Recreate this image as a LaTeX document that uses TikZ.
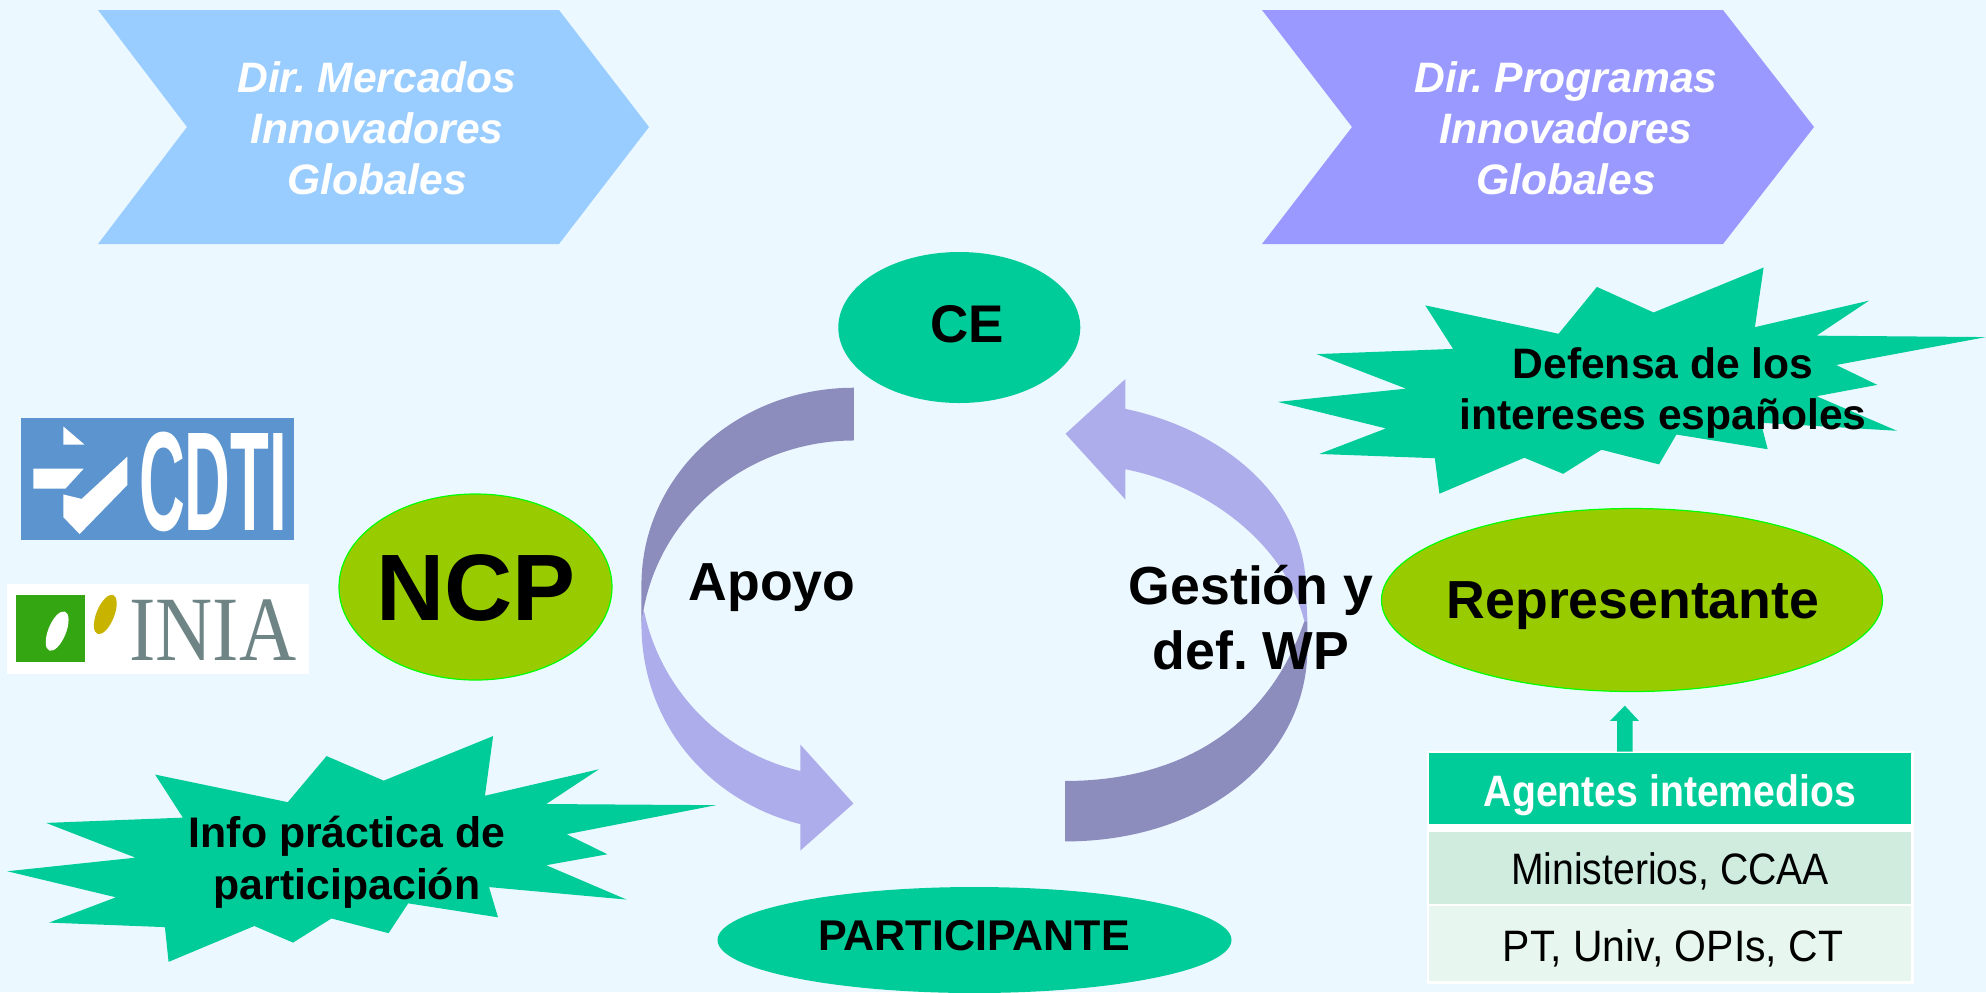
\documentclass[tikz,border=0pt]{standalone}
\usepackage{fontspec}
\usepackage{graphicx}
\setmainfont{Liberation Sans}
\newfontfamily\iniafont{Liberation Serif}
\usetikzlibrary{shapes.geometric}
\frenchspacing
\newcommand{\fpt}[1]{\fontsize{#1}{#1}\selectfont}
\definecolor{bgc}{HTML}{ECF8FF}
\definecolor{mint}{HTML}{00CC99}
\definecolor{olive}{HTML}{99CC00}
\definecolor{lime}{HTML}{00FF00}
\definecolor{chevA}{HTML}{99CCFF}
\definecolor{chevB}{HTML}{9999FF}
\definecolor{arrL}{HTML}{ADADEB}
\definecolor{arrD}{HTML}{8C8CBD}
\definecolor{rowA}{HTML}{CFECDF}
\definecolor{rowB}{HTML}{E7F6EE}
\definecolor{cdtiblue}{HTML}{5B94CE}
\definecolor{iniagreen}{HTML}{33A612}
\definecolor{iniayellow}{HTML}{C8B400}
\definecolor{iniagray}{HTML}{6F8585}
\tikzset{
  lbl/.style={font=\bfseries\fpt{26.8}, text=black, inner sep=0pt, align=center},
  chevlbl/.style={font=\bfseries\itshape\fpt{21.3}, text=white, inner sep=0pt, align=center},
  oval/.style={ellipse, inner sep=0pt, fill=mint},
  olive oval/.style={ellipse, inner sep=0pt, fill=olive, draw=lime, line width=0.6pt},
  rowlbl/.style={inner sep=0pt, anchor=center}
}
\begin{document}
\begin{tikzpicture}[x=0.5pt,y=-0.5pt]
\useasboundingbox (0,0) rectangle (1986,992);
\fill[bgc] (0,0) rectangle (1986,992);

% chevrons
\fill[chevA] (98,10) -- (559,10) -- (649,127) -- (559,244) -- (98,244) -- (187,127) -- cycle;
\fill[chevB] (1262,10) -- (1723,10) -- (1814,127) -- (1723,244) -- (1262,244) -- (1352,127) -- cycle;
\node[chevlbl] (dirm) at (377,128) {Dir. Mercados\\[4.3pt]Innovadores\\[4.3pt]Globales};
\node[chevlbl] (dirp) at (1566,128) {Dir. Programas\\[4.3pt]Innovadores\\[4.3pt]Globales};

% curved arrows
\begin{scope}[shift={(620,240)},xscale=0.4464,yscale=0.4796]
\fill[arrD] (524,308) .. controls (261,308) and (48,490) .. (48,720) -- (48,800) -- (53,770)
  .. controls (95,560) and (300,418) .. (524,418) -- cycle;
\fill[arrL] (53,770) .. controls (90,940) and (230,1070) .. (404,1107) -- (404,1052) -- (523,1175)
  -- (404,1273) -- (404,1218) .. controls (200,1170) and (48,1010) .. (48,800) -- cycle;
\fill[arrL] (998,404) -- (1132,290) -- (1132,352) .. controls (1350,395) and (1520,530) .. (1535,700)
  -- (1540,795) -- (1533,795) .. controls (1490,630) and (1310,510) .. (1132,478) -- (1132,541) -- cycle;
\fill[arrD] (997,1128) .. controls (1250,1128) and (1450,1020) .. (1533,795) -- (1540,795)
  -- (1540,850) .. controls (1540,1080) and (1310,1254) .. (997,1254) -- cycle;
\end{scope}

% stars
\begin{scope}[shift={(0,400)},xscale=0.4082,yscale=0.3776]
\fill[mint] (380,992) -- (705,1065) -- (800,943) -- (940,1008) -- (1208,890) -- (1188,1048) -- (1467,978)
 -- (1338,1070) -- (1754,1073) -- (1388,1150) -- (1488,1203) -- (1338,1232) -- (1535,1323) -- (1198,1290)
 -- (1220,1370) -- (1000,1333) -- (952,1412) -- (812,1373) -- (718,1437) -- (623,1393) -- (413,1488)
 -- (404,1396) -- (120,1384) -- (284,1317) -- (18,1248) -- (332,1212) -- (113,1120) -- (448,1106) -- cycle;
\end{scope}
\begin{scope}[shift={(1270,250)},xscale=0.4566,yscale=0.4732]
\fill[mint] (340,117) -- (632,177) -- (716,78) -- (840,132) -- (1081,37) -- (1062,163) -- (1312,107)
 -- (1197,181) -- (1568,184) -- (1240,243) -- (1330,285) -- (1197,309) -- (1373,382) -- (1075,365)
 -- (1090,421) -- (890,390) -- (852,453) -- (726,422) -- (642,473) -- (557,439) -- (371,515)
 -- (361,440) -- (108,431) -- (254,377) -- (17,321) -- (298,293) -- (102,220) -- (401,209) -- cycle;
\end{scope}

% ellipses
\node[oval, minimum width=121pt, minimum height=75.5pt] (ce) at (959.3,327.5) {};
\node[oval, minimum width=257pt, minimum height=53pt] (part) at (974.5,940) {};
\node[olive oval, minimum width=136.5pt, minimum height=93pt] (ncp) at (475.5,587) {};
\node[olive oval, minimum width=250.5pt, minimum height=91.5pt] (rep) at (1632,600) {};

% labels
\node[inner sep=0pt, font=\bfseries\fpt{26.5}] (cet) at (967,324) {CE};
\node[inner sep=0pt, font=\bfseries\fpt{21.5}] (partt) at (974,936) {PARTICIPANTE};
\node[inner sep=0pt, font=\bfseries\fpt{47.2}] (ncpt) at (476,588) {NCP};
\node[lbl] (rept) at (1633,606) {Representante};
\node[lbl] (apoyo) at (772,588) {Apoyo};
\node[lbl] (gest) at (1251,617.5) {Gestión y\\[5.5pt]def. WP};
\node[inner sep=0pt, align=center, font=\bfseries\fpt{21.4}] (info) at (347,862) {Info práctica de\\[4.6pt]participación};
\node[inner sep=0pt, align=center, font=\bfseries\fpt{21.3}] (def) at (1663,393) {Defensa de los\\[4pt]intereses españoles};

% logos
\begin{scope}[shift={(0,400)},xscale=0.4082,yscale=0.3776]
\fill[cdtiblue] (51,48) rectangle (720,372);
\fill[white] (155,70) -- (207,118) -- (155,118) -- cycle;
\fill[white] (82,182) -- (205,182) -- (160,235) -- (82,235) -- cycle;
\fill[white] (155,250) -- (200,262) -- (312,150) -- (312,225) -- (195,355) -- (155,310) -- cycle;
\node[inner sep=0pt, anchor=base, text=white, font=\bfseries\fpt{70.5}] (cdti) at (522,345) {\scalebox{0.45}[1]{CDTI}};
\fill[white] (18,487) rectangle (757,725);
\fill[iniagreen] (40,517) rectangle (208,695);
\fill[white, rotate around={-20:(140,612)}] (140,612) ellipse (22 and 55);
\fill[iniayellow, rotate around={-20:(258,568)}] (258,568) ellipse (22 and 55);
\node[inner sep=0pt, anchor=base, text=iniagray, font=\iniafont\fpt{46}] (inia) at (521,690) {\scalebox{0.86}[1]{INIA}};
\end{scope}

% table
\fill[white] (1427,751) rectangle (1914,984);
\fill[mint] (1429.4,753) rectangle (1911,823.6);
\fill[rowA] (1429.4,832) rectangle (1911,903.6);
\fill[rowB] (1429.4,906) rectangle (1911,981);
\node[rowlbl, text=white, font=\bfseries\fpt{22}] (ag) at (1670,795) {\scalebox{0.89}[1]{Agentes intemedios}};
\node[rowlbl, text=black, font=\fpt{22}] (min) at (1670,871) {\scalebox{0.89}[1]{Ministerios, CCAA}};
\node[rowlbl, text=black, font=\fpt{22}] (pt) at (1673,948) {\scalebox{0.93}[1]{PT, Univ, OPIs, CT}};

% small block arrow
\fill[mint] (1617,751.7) -- (1617,720.9) -- (1610,720.9) -- (1624.8,705.7) -- (1639,720.9) -- (1632.6,720.9) -- (1632.6,751.7) -- cycle;
\end{tikzpicture}
\end{document}
